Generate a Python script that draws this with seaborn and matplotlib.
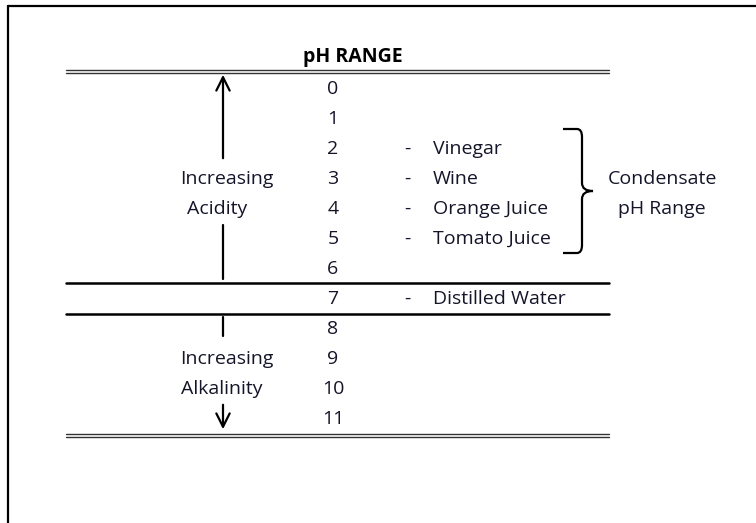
import numpy as np
import matplotlib
matplotlib.use("Agg")
import matplotlib.pyplot as plt
from matplotlib.path import Path
from matplotlib.patches import PathPatch
import seaborn as sns

sns.set_theme(style="white")
plt.rcParams['font.family'] = ['Open Sans', 'DejaVu Sans']

# data
ph_values = list(range(12))
substance_ph = [2, 3, 4, 5, 7]
substance_names = ['Vinegar', 'Wine', 'Orange Juice', 'Tomato Juice', 'Distilled Water']
condensate_range = (2, 5)
neutral_ph = 7

# layout (pixel coordinates of the 756x523 canvas)
ROW0, ROW_H = 89, 30
X_NUM, X_DASH, X_NAME = 333, 407, 433
X_LEFT, X_RIGHT = 66, 609
X_ARROW = 223
TXT = '#15152a'

def row_y(ph):
    return ROW0 + ROW_H * ph

fig = plt.figure(figsize=(7.56, 5.23), dpi=100)
ax = fig.add_axes([0, 0, 1, 1])
ax.set_xlim(0, 756)
ax.set_ylim(523, 0)
ax.axis('off')

# outer frame (left and top only, picture is cropped)
ax.plot([8, 8], [523, 6], color='black', lw=1.6)
ax.plot([8, 756], [6, 6], color='black', lw=1.6)

fs = 14
ax.text(353, 57, 'pH RANGE', ha='center', va='center', fontsize=fs,
        fontweight='bold', color='black')

# double rules top and bottom
for y0 in (row_y(0) - 18, row_y(ph_values[-1]) + 16):
    ax.plot([X_LEFT, X_RIGHT], [y0 - 1.5, y0 - 1.5], color='#333333', lw=1.0)
    ax.plot([X_LEFT, X_RIGHT], [y0 + 1.5, y0 + 1.5], color='#333333', lw=1.0)

# single rules around neutral row
for y0 in (row_y(neutral_ph) - 16, row_y(neutral_ph) + 15):
    ax.plot([X_LEFT, X_RIGHT], [y0, y0], color='black', lw=1.8)

# pH numbers
sns.despine(ax=ax, left=True, bottom=True)
for ph in ph_values:
    ax.text(X_NUM, row_y(ph), str(ph), ha='center', va='center', fontsize=fs, color=TXT)

# substances
for ph, name in zip(substance_ph, substance_names):
    ax.text(X_DASH, row_y(ph), '-', ha='center', va='center', fontsize=fs, color=TXT)
    ax.text(X_NAME, row_y(ph), name, ha='left', va='center', fontsize=fs, color=TXT)

# acidity arrow
ax.annotate('', xy=(X_ARROW, row_y(0) - 17), xytext=(X_ARROW, row_y(2) + 12),
            arrowprops=dict(arrowstyle='->', color='black', lw=1.6, mutation_scale=24))
ax.plot([X_ARROW, X_ARROW], [row_y(4) + 16, row_y(6) + 10], color='black', lw=1.6)
ax.text(X_ARROW + 4, row_y(3), 'Increasing', ha='center', va='center', fontsize=fs, color=TXT)
ax.text(X_ARROW - 6, row_y(4), 'Acidity', ha='center', va='center', fontsize=fs, color=TXT)

# alkalinity arrow
ax.plot([X_ARROW, X_ARROW], [row_y(8) - 12, row_y(8) + 7], color='black', lw=1.6)
ax.text(X_ARROW + 4, row_y(9), 'Increasing', ha='center', va='center', fontsize=fs, color=TXT)
ax.text(X_ARROW - 1, row_y(10), 'Alkalinity', ha='center', va='center', fontsize=fs, color=TXT)
ax.annotate('', xy=(X_ARROW, row_y(11) + 13), xytext=(X_ARROW, row_y(10) + 13),
            arrowprops=dict(arrowstyle='->', color='black', lw=1.6, mutation_scale=24))

# brace for condensate range
y_top = row_y(condensate_range[0]) - 20
y_bot = row_y(condensate_range[1]) + 14
y_mid = (y_top + y_bot) / 2
xb0, xb1, xtip = 563, 582, 593
verts = [(xb0, y_top), (xb1 - 5, y_top), (xb1, y_top), (xb1, y_top + 8),
         (xb1, y_mid - 8), (xb1, y_mid), (xtip, y_mid),
         (xb1, y_mid), (xb1, y_mid + 8),
         (xb1, y_bot - 8), (xb1, y_bot), (xb1 - 5, y_bot), (xb0, y_bot)]
codes = [Path.MOVETO, Path.LINETO, Path.CURVE3, Path.CURVE3,
         Path.LINETO, Path.CURVE3, Path.CURVE3,
         Path.CURVE3, Path.CURVE3,
         Path.LINETO, Path.CURVE3, Path.CURVE3, Path.LINETO]
ax.add_patch(PathPatch(Path(verts, codes), fill=False, color='black', lw=1.6))
ax.text(662, row_y(3), 'Condensate', ha='center', va='center', fontsize=fs, color=TXT)
ax.text(662, row_y(4), 'pH Range', ha='center', va='center', fontsize=fs, color=TXT)

plt.savefig('out.png', dpi=100)
